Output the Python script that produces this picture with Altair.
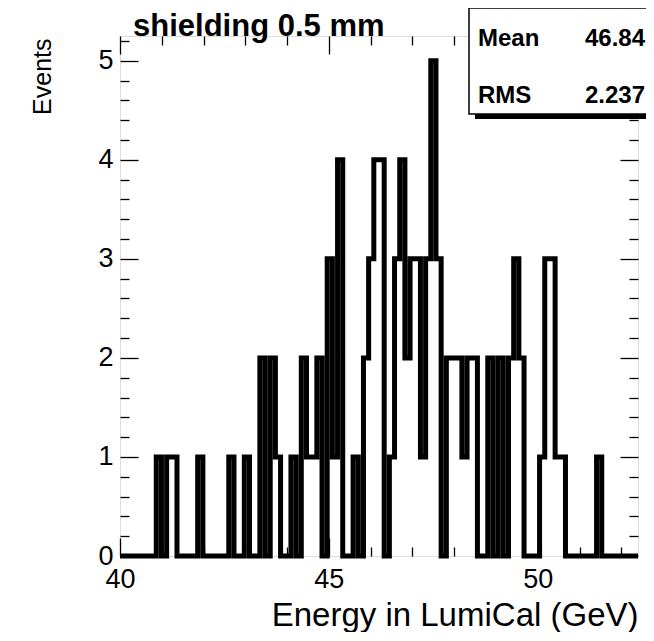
import altair as alt
import pandas as pd

# ---------------- values ----------------
x_min = 40.0
x_max = 52.4
n_bins = 100
y_max = 5.25
counts = [0, 0, 0, 0, 0, 0, 0, 1, 0, 1,
          1, 0, 0, 0, 0, 1, 0, 0, 0, 0,
          0, 1, 0, 0, 1, 0, 0, 2, 0, 2,
          1, 0, 0, 1, 0, 2, 1, 1, 2, 0,
          3, 1, 4, 0, 0, 1, 0, 2, 3, 4,
          4, 0, 1, 3, 4, 2, 3, 3, 1, 3,
          5, 3, 0, 2, 2, 2, 1, 2, 2, 0,
          0, 2, 0, 2, 0, 2, 3, 2, 0, 0,
          0, 1, 3, 3, 1, 1, 0, 0, 0, 0,
          0, 0, 1, 0, 0, 0, 0, 0, 0, 0]
x_major = [40, 45, 50]
x_minor = [41, 42, 43, 44, 46, 47, 48, 49, 51, 52]
y_major = [0, 1, 2, 3, 4, 5]
y_minor = [0.2, 0.4, 0.6, 0.8, 1.2, 1.4, 1.6, 1.8, 2.2, 2.4, 2.6, 2.8,
           3.2, 3.4, 3.6, 3.8, 4.2, 4.4, 4.6, 4.8, 5.2]
title_text = "shielding 0.5 mm"
x_title = "Energy in LumiCal (GeV)"
y_title = "Events"
stat_names = ["Mean", "RMS"]
stat_values = ["46.84", "2.237"]

# ---------------- build the histogram outline table ----------------
bw = (x_max - x_min) / n_bins
edges = [x_min + i * bw for i in range(n_bins + 1)]
hist = pd.DataFrame({"x": edges, "n": counts + [0]})

W, H = 518, 520
FONT = "Liberation Sans"
xs = alt.Scale(domain=[x_min, x_max], nice=False, zero=False)
ys = alt.Scale(domain=[0, y_max], nice=False, zero=True)

base = alt.Chart(hist)


def tick_axis(orient, values, size, offset):
    return alt.Axis(orient=orient, values=values, tickSize=size, offset=offset,
                    labels=False, domain=False, grid=False, ticks=True,
                    tickColor="black", tickWidth=1.3, title=None)


x_lab = alt.Axis(orient="bottom", values=x_major, ticks=False, domain=False,
                 grid=False, format="d", labelFont=FONT, labelFontSize=27,
                 labelColor="black", labelPadding=10, labelFlush=False,
                 title=x_title, titleFont=FONT, titleFontSize=33,
                 titleFontWeight="normal", titleColor="black",
                 titleAlign="right", titleBaseline="alphabetic",
                 titleX=W, titleY=69, titleAngle=0)
y_lab = alt.Axis(orient="left", values=y_major, ticks=False, domain=False,
                 grid=False, format="d", labelFont=FONT, labelFontSize=27,
                 labelColor="black", labelPadding=7, labelFlush=False,
                 title=y_title, titleFont=FONT, titleFontSize=25,
                 titleFontWeight="normal", titleColor="black",
                 titleAngle=270, titleAlign="right", titleBaseline="alphabetic",
                 titleX=-70, titleY=2)

line = base.mark_line(interpolate="step-after", color="black", strokeWidth=5,
                      strokeJoin="miter", strokeCap="butt").encode(
    x=alt.X("x:Q", scale=xs, axis=x_lab),
    y=alt.Y("n:Q", scale=ys, axis=y_lab),
)


def ghost(xaxis, yaxis):
    return base.mark_line(opacity=0).encode(
        x=alt.X("x:Q", scale=xs, axis=xaxis),
        y=alt.Y("n:Q", scale=ys, axis=yaxis),
    )


t_bottom_major = ghost(tick_axis("top", x_major, 18, -H), tick_axis("right", y_major, 18, -W))
t_bottom_minor = ghost(tick_axis("top", x_minor, 9, -H), tick_axis("right", y_minor, 9, -W))
t_top_major = ghost(tick_axis("bottom", x_major, 18, -H), tick_axis("left", y_major, 18, -W))
t_top_minor = ghost(tick_axis("bottom", x_minor, 9, -H), tick_axis("left", y_minor, 9, -W))

one = alt.Data(values=[{"k": 0}])
shadow = alt.Chart(one).mark_rect(color="black").encode(
    x=alt.value(355), x2=alt.value(600), y=alt.value(-23), y2=alt.value(83))
box = alt.Chart(one).mark_rect(fill="white", stroke="black", strokeWidth=1.5).encode(
    x=alt.value(349), x2=alt.value(600), y=alt.value(-28), y2=alt.value(78))


def txt(s, x, y, align, weight="bold", size=20):
    return alt.Chart(alt.Data(values=[{"t": s}])).mark_text(
        font=FONT, fontSize=size, fontWeight=weight, align=align,
        baseline="alphabetic", color="black").encode(
        x=alt.value(x), y=alt.value(y), text="t:N")


texts = [
    txt(stat_names[0], 358, 10, "left", size=24),
    txt(stat_values[0], 525, 10, "right", size=24),
    txt(stat_names[1], 358, 67, "left", size=24),
    txt(stat_values[1], 525, 67, "right", size=24),
    txt(title_text, 13, 0, "left", size=31),
]

chart = alt.layer(
    line, t_bottom_major, t_bottom_minor, t_top_major, t_top_minor,
    shadow, box, *texts
).resolve_axis(x="independent", y="independent").properties(
    width=W, height=H,
    padding={"left": 112, "top": 28, "right": 8, "bottom": 76},
    autosize=alt.AutoSizeParams(type="none"),
).configure_view(stroke="black", strokeWidth=1.6).configure(background="white")

chart.save("out.html", embed_options={"renderer": "svg", "actions": False})
